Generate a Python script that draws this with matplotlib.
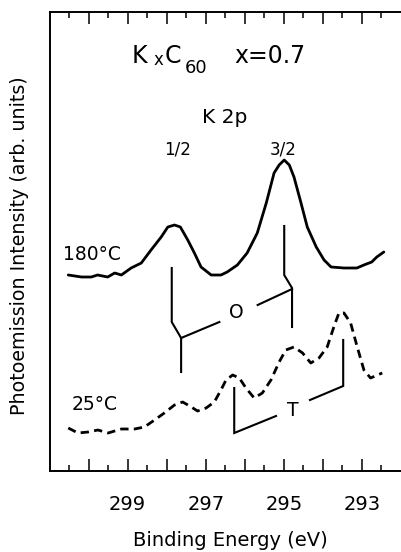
import matplotlib
matplotlib.use("Agg")
import matplotlib.pyplot as plt
from matplotlib.ticker import FixedLocator, FixedFormatter

plt.rcParams['font.family'] = ['DejaVu Sans']
plt.rcParams['mathtext.fontset'] = 'dejavusans'

# ---- data (binding energy in eV, intensity in arb. units) ----
solid_E = [300.52, 300.18, 299.93, 299.77, 299.51, 299.33, 299.16, 298.91, 298.65, 298.40,
           298.14, 297.97, 297.80, 297.65, 297.46, 297.29, 297.12, 296.86, 296.61, 296.45,
           296.19, 295.94, 295.68, 295.45, 295.25, 295.12, 294.99, 294.86, 294.74, 294.56,
           294.40, 294.17, 293.97, 293.79, 293.46, 293.13, 292.95, 292.75, 292.62, 292.44]
solid_I = [196, 194, 194, 196, 194, 198, 196, 203, 208, 221,
           234, 244, 246, 244, 231, 218, 204, 196, 196, 199,
           206, 218, 238, 268, 298, 306, 311, 306, 294, 268,
           244, 224, 211, 204, 203, 203, 206, 209, 214, 219]

dash_E = [300.52, 300.27, 300.01, 299.76, 299.50, 299.16, 298.82, 298.57, 298.31, 298.06,
          297.80, 297.59, 297.37, 297.21, 296.99, 296.78, 296.61, 296.48, 296.31, 296.14,
          295.97, 295.76, 295.55, 295.33, 295.12, 294.95, 294.74, 294.52, 294.31, 294.10,
          293.89, 293.72, 293.59, 293.46, 293.29, 293.12, 292.95, 292.78, 292.48]
dash_I = [43, 38, 39, 41, 38, 42, 42, 44, 51, 58,
          66, 69, 64, 60, 63, 69, 81, 91, 96, 93,
          83, 73, 78, 91, 109, 121, 124, 118, 108, 113,
          124, 144, 158, 158, 148, 124, 101, 93, 98]

# bracket markers (energy, intensity)
O_left_E = [297.87, 297.87, 297.63, 297.63]
O_left_I = [203, 149, 133, 99]
O_left_arm_E = [297.63, 296.65]
O_left_arm_I = [133, 149]
O_right_E = [294.99, 294.99, 294.79, 294.79]
O_right_I = [245, 196, 183, 144]
O_right_arm_E = [294.79, 295.67]
O_right_arm_I = [182, 166]
T_left_E = [296.27, 296.27, 295.20]
T_left_I = [83, 38, 55]
T_right_E = [293.48, 293.48, 294.33]
T_right_I = [131, 85, 71]

major_ticks = [300, 299, 298, 297, 296, 295, 294, 293]
major_labels = ['', '299', '', '297', '', '295', '', '293']
minor_ticks = [300.5, 299.5, 298.5, 297.5, 296.5, 295.5, 294.5, 293.5, 292.5]

fig = plt.figure(figsize=(4.01, 5.52), dpi=100)
ax = fig.add_axes([49.5/401, 1-471/552, 1-49.5/401, (471-12)/552])

ax.plot(solid_E, solid_I, color='black', lw=2.0, solid_joinstyle='round', solid_capstyle='round')
ax.plot(dash_E, dash_I, color='black', lw=2.0, dashes=(3.0, 1.9), dash_capstyle='butt')

for e, i in [(O_left_E, O_left_I), (O_left_arm_E, O_left_arm_I),
             (O_right_E, O_right_I), (O_right_arm_E, O_right_arm_I),
             (T_left_E, T_left_I), (T_right_E, T_right_I)]:
    ax.plot(e, i, color='black', lw=1.5, solid_joinstyle='miter')

ax.set_xlim(301, 292)
ax.set_ylim(0, 459)

ax.xaxis.set_major_locator(FixedLocator(major_ticks))
ax.xaxis.set_major_formatter(FixedFormatter(major_labels))
ax.xaxis.set_minor_locator(FixedLocator(minor_ticks))
ax.tick_params(axis='x', which='major', direction='in', top=True, bottom=True,
               length=8.8, width=1.1, labelsize=14, pad=17)
ax.tick_params(axis='x', which='minor', direction='in', top=True, bottom=True,
               length=4.3, width=1.1)
ax.set_yticks([])
ax.spines['right'].set_visible(False)
for s in ['left', 'bottom', 'top']:
    ax.spines[s].set_linewidth(1.4)

ax.set_xlabel('Binding Energy (eV)', fontsize=14, va='top')
ax.xaxis.set_label_coords((230-49.5)/351.5, (471-531)/459)
ax.set_ylabel('Photoemission Intensity (arb. units)', fontsize=13.7, va='center')
ax.yaxis.set_label_coords((20-49.5)/351.5, (471-245.5)/459)

# K_x C_60 title built from pieces
ax.text(298.90, 408, 'K', fontsize=17, ha='left', va='baseline')
ax.text(298.33, 406, 'x', fontsize=12, ha='left', va='baseline')
ax.text(298.055, 408, 'C', fontsize=17, ha='left', va='baseline')
ax.text(297.545, 398, '60', fontsize=13, ha='left', va='baseline')
ax.text(296.27, 408, 'x=0.7', fontsize=17, ha='left', va='baseline')
ax.text(296.51, 348, 'K 2p', fontsize=14.5, ha='center', va='baseline')
ax.text(297.71, 316, '1/2', fontsize=12, ha='center', va='baseline')
ax.text(295.01, 316, '3/2', fontsize=12, ha='center', va='baseline')
ax.text(300.65, 211, '180°C', fontsize=13.5, ha='left', va='baseline')
ax.text(300.44, 61, '25°C', fontsize=13.5, ha='left', va='baseline')
ax.text(296.22, 159, 'O', fontsize=13.5, ha='center', va='center')
ax.text(294.78, 61, 'T', fontsize=13.5, ha='center', va='center')

fig.savefig('out.png', dpi=100)
